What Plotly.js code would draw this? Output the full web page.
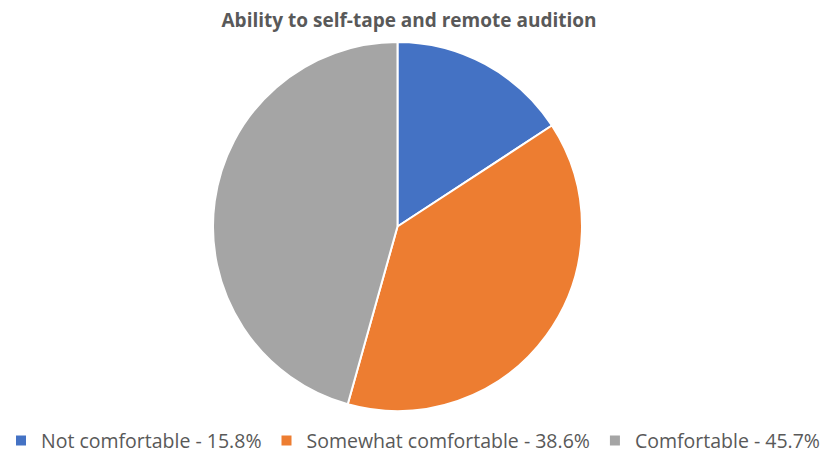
<!DOCTYPE html>
<html>
<head>
<meta charset="utf-8">
<script src="https://cdn.plot.ly/plotly-3.0.1.min.js"></script>
<style>html,body{margin:0;padding:0;background:#fff;}#chart{width:825px;height:455px;}</style>
</head>
<body>
<div id="chart"></div>
<script>
const categories = ["Not comfortable - 15.8%", "Somewhat comfortable - 38.6%", "Comfortable - 45.7%"];
const values = [15.8, 38.6, 45.7];
const colors = ["#4472C4", "#ED7D31", "#A5A5A5"];

const data = [{
  type: "pie",
  labels: categories,
  values: values,
  sort: false,
  direction: "clockwise",
  rotation: 0,
  textinfo: "none",
  hoverinfo: "label",
  domain: { x: [0, 0.9636], y: [0, 1] },
  marker: { colors: colors, line: { color: "#ffffff", width: 2 } }
}];

const layout = {
  width: 825,
  height: 455,
  margin: { l: 0, r: 0, t: 42, b: 44 },
  paper_bgcolor: "#ffffff",
  title: {
    text: "<b>Ability to self-tape and remote audition</b>",
    font: { family: "Open Sans, sans-serif", size: 19, color: "#595959" },
    x: 409 / 825, xanchor: "center", xref: "paper",
    y: 0.956, yref: "container", yanchor: "middle"
  },
  showlegend: true,
  legend: {
    orientation: "h",
    x: 421 / 825, xanchor: "center",
    y: 0.031, yref: "container", yanchor: "middle",
    font: { family: "Open Sans, sans-serif", size: 19.5, color: "#595959" },
    traceorder: "normal",
    itemwidth: 30
  }
};

Plotly.newPlot("chart", data, layout, { displayModeBar: false, staticPlot: true });
</script>
</body>
</html>
